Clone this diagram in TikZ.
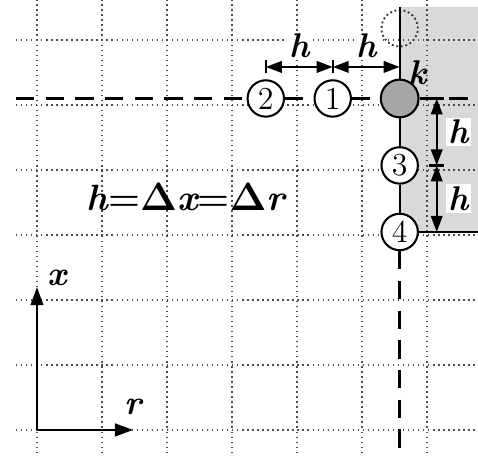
\documentclass[tikz,border=0pt]{standalone}
\usetikzlibrary{arrows.meta,calc}

\begin{document}
\begin{tikzpicture}[
    grd/.style={black!70, line width=0.6pt, dash pattern=on 0.6pt off 1.6pt},
    dsh/.style={line width=1.3pt, dash pattern=on 8pt off 5pt},
    pt/.style={circle, draw, line width=0.9pt, fill=white, minimum size=0.56cm, inner sep=0pt, font=\fontsize{14}{14}\selectfont},
    dim/.style={{Triangle[length=7pt,width=5pt]}-{Triangle[length=7pt,width=5pt]}, line width=1pt},
    tck/.style={line width=1pt},
    lbl/.style={font=\fontsize{15}{15}\selectfont\bfseries\itshape, inner sep=1pt},
    ax/.style={-{Triangle[length=8pt,width=5.5pt]}, line width=1.2pt}
]
\useasboundingbox (-0.569,-0.4) rectangle (6.785,6.615);
% shaded zone
\fill[black!15] (5.58,3.046) rectangle (6.785,6.51);
% grid
\foreach \i in {0,...,6} {
  \draw[grd] (\i,-0.354) -- (\i,6.615);
  \draw[grd] (-0.323,\i) -- (6.785,\i);
}

\node[pt, fill=black!35, minimum size=0.58cm] (k) at (5.58,5.1) {};
\node[pt] (n1) at (4.55,5.1) {1};
\node[pt] (n2) at (3.52,5.1) {2};
\node[pt] (n3) at (5.58,4.07) {3};
\node[pt] (n4) at (5.58,3.046) {4};
\node[pt, draw=black!80, fill=none, line width=0.8pt, dash pattern=on 0.8pt off 1.2pt, minimum size=0.56cm] (ghost) at (5.58,6.18) {};

\coordinate (top) at (5.58,6.51);
\coordinate (west) at (-0.323,5.1);
\coordinate (east) at (6.785,5.1);
\coordinate (south) at (5.58,-0.4);
\coordinate (corner) at (6.785,3.046);

\draw[dsh] (west) -- (n2) -- (n1) -- (k) -- (east);
\draw[line width=1pt] (top) -- (k) -- (n3) -- (n4);
\draw[dsh] (n4) -- (south);
\draw[line width=0.9pt] (n4) -- (corner);

% spacing h
\coordinate (hy) at (0,5.585);
\coordinate (vx) at (6.15,0);
\foreach \n in {n2,n1}
  \draw[tck] ($(\n |- hy)+(0,0.1)$) -- ($(\n |- hy)-(0,0.1)$);
\foreach \n in {k,n3,n4}
  \draw[tck] ($(\n -| vx)+(0.115,0)$) -- ($(\n -| vx)-(0.115,0)$);
\draw[dim] (n2 |- hy) -- node[lbl, fill=white, above=2.5pt] {h} (n1 |- hy);
\draw[dim] (n1 |- hy) -- node[lbl, fill=white, above=2.5pt] {h} (k |- hy);
\draw[dim] (k -| vx) -- node[lbl, fill=white, right=3.5pt] {h} (n3 -| vx);
\draw[dim] (n3 -| vx) -- node[lbl, fill=white, right=3.5pt] {h} (n4 -| vx);
\node[lbl] (klbl) at (5.86,5.49) {k};

\node[font=\fontsize{16}{16}\selectfont\bfseries] (eq) at (2.29,3.58) {\itshape h\upshape=$\mathbf{\Delta}$\itshape x\upshape=$\mathbf{\Delta}$\itshape r};

% axes
\coordinate (o) at (0,0);
\coordinate (xtip) at (0,2.2);
\coordinate (rtip) at (1.48,0);
\draw[ax] (o) -- (xtip);
\draw[ax] (o) -- (rtip);
\node[lbl] (xlbl) at (0.31,2.34) {x};
\node[lbl] (rlbl) at (1.48,0.35) {r};
\end{tikzpicture}
\end{document}
